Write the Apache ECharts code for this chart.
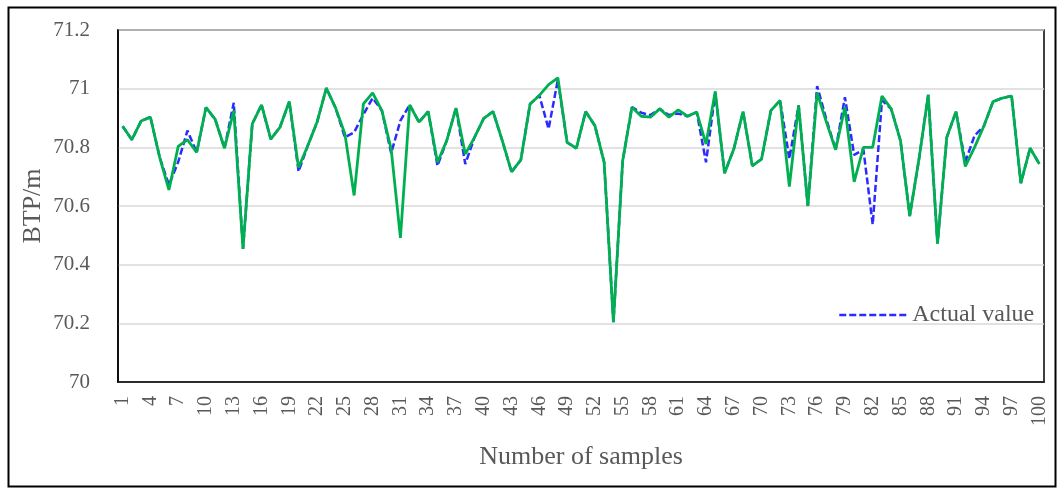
<!DOCTYPE html>
<html>
<head>
<meta charset="utf-8">
<script src="https://cdn.jsdelivr.net/npm/echarts@6/dist/echarts.min.js"></script>
<style>html,body{margin:0;padding:0;background:#fff;}#c{width:1060px;height:488px;}</style>
</head>
<body>
<div id="c"></div>
<script>
const samples = Array.from({length: 100}, (_, i) => String(i + 1));
const predicted = [
70.872,70.826,70.890,70.903,70.766,70.655,70.803,70.826,70.783,70.936,
70.895,70.797,70.925,70.454,70.880,70.945,70.828,70.869,70.956,70.731,
70.806,70.886,71.002,70.934,70.846,70.636,70.948,70.986,70.925,70.794,
70.491,70.945,70.886,70.922,70.749,70.823,70.934,70.777,70.834,70.899,
70.922,70.823,70.716,70.757,70.948,70.977,71.014,71.037,70.817,70.797,
70.922,70.874,70.749,70.204,70.754,70.937,70.906,70.903,70.931,70.903,
70.928,70.906,70.920,70.811,70.991,70.712,70.794,70.922,70.737,70.760,
70.925,70.960,70.666,70.943,70.600,70.986,70.886,70.792,70.937,70.682,
70.800,70.800,70.975,70.931,70.823,70.566,70.760,70.979,70.472,70.834,
70.922,70.735,70.800,70.872,70.956,70.968,70.975,70.678,70.797,70.743
];
const actual = [
70.872,70.826,70.890,70.903,70.766,70.672,70.750,70.857,70.783,70.936,
70.895,70.797,70.952,70.454,70.880,70.945,70.828,70.869,70.956,70.718,
70.806,70.886,71.002,70.934,70.834,70.851,70.912,70.968,70.925,70.780,
70.891,70.945,70.886,70.922,70.737,70.823,70.934,70.743,70.834,70.899,
70.922,70.823,70.716,70.757,70.948,70.977,70.863,71.030,70.817,70.797,
70.922,70.874,70.749,70.204,70.754,70.937,70.918,70.910,70.931,70.910,
70.915,70.906,70.920,70.749,70.985,70.712,70.794,70.922,70.737,70.760,
70.925,70.960,70.761,70.943,70.600,71.009,70.895,70.792,70.971,70.774,
70.792,70.537,70.960,70.931,70.823,70.566,70.760,70.979,70.472,70.834,
70.922,70.750,70.840,70.872,70.956,70.968,70.975,70.678,70.797,70.743
];
const font = '"Liberation Serif", "Times New Roman", serif';
const grey = '#595959';
const chart = echarts.init(document.getElementById('c'), null, {renderer: 'canvas'});
chart.setOption({
  animation: false,
  backgroundColor: '#fff',
  graphic: [{
    type: 'rect', left: 6, top: 5, z: 100,
    shape: {width: 1047, height: 479},
    style: {fill: 'none', stroke: '#000', lineWidth: 2}
  }],
  grid: {left: 118, right: 16, top: 30, bottom: 106, show: true, borderColor: '#000', borderWidth: 1.5, backgroundColor: 'transparent'},
  legend: {
    data: ['Actual value'],
    left: 833, top: 298,
    itemWidth: 68, itemHeight: 14,
    itemStyle: {opacity: 0},
    lineStyle: {type: [7, 3], width: 2.5, color: '#2b2bff'},
    textStyle: {fontFamily: font, fontSize: 24, color: grey},
    itemGap: 10
  },
  xAxis: {
    type: 'category',
    data: samples,
    boundaryGap: true,
    name: 'Number of samples',
    nameLocation: 'middle',
    nameGap: 62,
    nameMoveOverlap: false,
    nameTextStyle: {fontFamily: font, fontSize: 26, color: grey},
    axisLine: {lineStyle: {color: '#000', width: 1.5}},
    axisTick: {show: false},
    axisLabel: {interval: 2, rotate: 90, fontFamily: font, fontSize: 20, color: grey, margin: 14}
  },
  yAxis: {
    type: 'value',
    min: 70, max: 71.2, interval: 0.2,
    name: 'BTP/m',
    nameLocation: 'middle',
    nameGap: 72,
    nameMoveOverlap: false,
    nameRotate: 90,
    nameTextStyle: {fontFamily: font, fontSize: 26, color: grey},
    axisLine: {show: true, lineStyle: {color: '#000', width: 1.5}},
    axisTick: {show: false},
    axisLabel: {fontFamily: font, fontSize: 21, color: grey, margin: 28},
    splitLine: {lineStyle: {color: '#d9d9d9', width: 1.5}}
  },
  series: [
    {
      name: 'Actual value', type: 'line', data: actual, symbol: 'none', z: 2,
      lineStyle: {color: '#2b2bff', width: 2.5, type: [7, 3]},
      itemStyle: {color: '#2b2bff'}
    },
    {
      name: 'Predicted value', type: 'line', data: predicted, symbol: 'none', z: 3,
      lineStyle: {color: '#00b050', width: 2.8},
      itemStyle: {color: '#00b050'}
    }
  ]
});
</script>
</body>
</html>
